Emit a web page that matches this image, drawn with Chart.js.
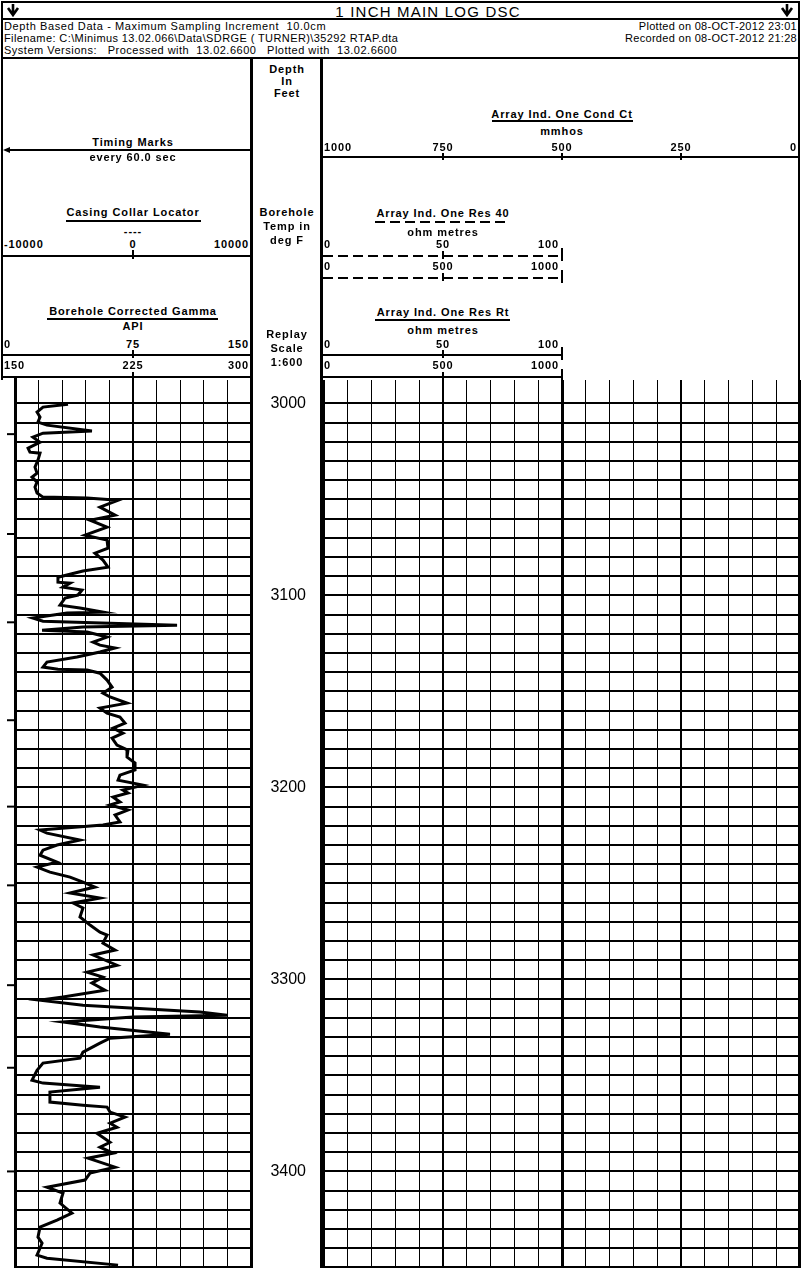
<!DOCTYPE html>
<html>
<head>
<meta charset="utf-8">
<script src="https://cdn.jsdelivr.net/npm/chart.js@4.4.1/dist/chart.umd.min.js"></script>
<style>
  html, body { margin: 0; padding: 0; background: #fff; }
  #page { position: relative; width: 801px; height: 1268px; overflow: hidden; background: #fff; }
  .txt { position: absolute; white-space: pre; line-height: 1; color: #000;
         font-family: "Liberation Sans", Arial, sans-serif; font-size: 11px; }
  .b { font-weight: bold; letter-spacing: 0.9px; }
  .ln { position: absolute; background: #000; }
  canvas { position: absolute; }
</style>
</head>
<body>
<div id="page">
  <canvas id="trackL" width="251" height="888" style="left:0;top:380px"></canvas>
  <canvas id="trackR" width="550" height="888" style="left:251px;top:380px"></canvas>
</div>
<script>
const gammaDepth = [
  3000.4, 3001.9, 3004.5, 3007.1, 3009.7, 3011.3, 3014.4, 3015.5, 3017.6, 3020.2,
  3023.3, 3025.4, 3025.9, 3029.5, 3033.2, 3036.3, 3038.4, 3041.0, 3043.6, 3046.7,
  3048.8, 3049.2, 3050.4, 3054.0, 3058.2, 3060.8, 3064.4, 3068.6, 3071.2, 3075.4,
  3078.0, 3081.6, 3085.3, 3087.3, 3090.5, 3093.1, 3093.6, 3095.7, 3097.2, 3099.8,
  3101.4, 3105.1, 3106.6, 3108.7, 3109.2, 3111.8, 3113.4, 3115.5, 3116.5, 3118.1,
  3119.1, 3121.7, 3124.3, 3125.9, 3127.4, 3129.5, 3132.1, 3134.7, 3137.3, 3138.4,
  3138.9, 3140.5, 3144.1, 3147.8, 3150.9, 3152.9, 3156.1, 3158.7, 3161.3, 3163.4,
  3166.5, 3169.1, 3171.7, 3174.3, 3177.9, 3180.6, 3184.2, 3187.3, 3190.9, 3193.6,
  3196.2, 3198.8, 3201.4, 3202.9, 3205.0, 3207.6, 3209.1, 3211.8, 3214.4, 3218.0,
  3219.6, 3222.2, 3223.8, 3227.4, 3230.0, 3232.7, 3235.3, 3238.9, 3241.5, 3244.1,
  3246.7, 3249.3, 3251.9, 3255.0, 3257.6, 3260.2, 3262.8, 3267.5, 3271.7, 3275.4,
  3276.9, 3281.1, 3284.7, 3287.3, 3292.6, 3296.2, 3298.8, 3301.9, 3305.6, 3309.2,
  3310.8, 3313.4, 3317.0, 3318.6, 3319.6, 3322.2, 3324.8, 3328.5, 3330.6, 3333.2,
  3337.9, 3341.0, 3343.6, 3347.3, 3352.5, 3354.0, 3356.1, 3358.7, 3363.9, 3365.5,
  3366.5, 3369.1, 3371.7, 3374.9, 3377.0, 3380.1, 3384.8, 3387.4, 3390.5, 3393.1,
  3397.8, 3400.9, 3404.5, 3408.2, 3411.3, 3416.5, 3421.7, 3425.4, 3429.0, 3434.2,
  3437.4, 3443.6, 3445.2, 3448.8
];
const gammaApi = [
  33.7, 17.8, 14.0, 15.9, 14.6, 20.3, 48.9, 17.8, 11.4, 15.9,
  8.3, 9.5, 15.9, 14.6, 12.7, 14.0, 10.8, 14.0, 12.7, 14.0,
  17.8, 45.8, 65.5, 54.0, 63.6, 47.7, 58.5, 44.5, 58.5, 59.1,
  50.8, 55.9, 59.1, 43.2, 27.3, 27.3, 35.0, 30.5, 42.6, 40.0,
  31.8, 28.6, 41.3, 55.9, 33.1, 11.4, 17.8, 103.0, 43.2, 17.2,
  45.8, 58.5, 49.6, 54.0, 63.6, 54.0, 39.4, 20.3, 17.8, 27.3,
  45.8, 54.0, 58.5, 61.7, 55.9, 60.4, 71.2, 54.0, 58.5, 66.7,
  69.9, 62.3, 68.6, 61.7, 64.8, 71.8, 71.2, 76.3, 76.3, 66.7,
  65.5, 81.4, 68.6, 71.8, 62.3, 66.7, 60.4, 71.8, 63.6, 66.7,
  55.9, 15.9, 20.3, 41.3, 26.7, 17.8, 15.9, 26.7, 14.0, 22.2,
  35.0, 43.2, 50.8, 35.0, 54.0, 36.9, 43.2, 41.3, 47.7, 54.0,
  58.5, 55.9, 63.6, 49.6, 64.8, 45.8, 55.9, 48.9, 57.2, 30.5,
  15.9, 43.2, 117.6, 134.7, 75.0, 30.5, 54.0, 98.5, 60.4, 54.0,
  43.2, 41.3, 17.8, 14.0, 10.8, 17.8, 54.0, 22.2, 22.2, 43.2,
  58.5, 60.4, 69.9, 60.4, 64.8, 52.1, 60.4, 54.0, 62.3, 46.4,
  63.6, 47.7, 44.5, 20.3, 30.5, 28.6, 36.2, 26.7, 15.9, 14.6,
  17.2, 14.0, 20.3, 65.5
];
const timingMarks = [3016, 3068, 3114, 3165, 3210, 3251, 3303, 3346, 3400];
const depthTop = 2987.8;
const depthBottom = 3450.3;

// header scale labels
const gammaScale = ['0', '75', '150'];
const gammaBackup = ['150', '225', '300'];
const cclScale = ['-10000', '0', '10000'];
const condScale = ['1000', '750', '500', '250', '0'];
const resScale = ['0', '50', '100'];
const resBackup = ['0', '500', '1000'];

// ---- header drawing helpers ----
const page = document.getElementById('page');
function txt(s, x, y, o = {}) {
  const d = document.createElement('div');
  d.className = 'txt' + (o.b ? ' b' : '');
  d.textContent = s;
  d.style.top = y + 'px';
  const a = o.a || 'c';
  if (a === 'c') { d.style.left = x + 'px'; d.style.transform = 'translate(-50%,-50%)'; }
  else if (a === 'l') { d.style.left = x + 'px'; d.style.transform = 'translateY(-50%)'; }
  else { d.style.right = (801 - x) + 'px'; d.style.transform = 'translateY(-50%)'; }
  if (o.f) d.style.fontSize = o.f + 'px';
  if (o.ls != null) d.style.letterSpacing = o.ls + 'px';
  page.appendChild(d);
}
function hl(x1, x2, y, w = 2, dashed = false) {
  const d = document.createElement('div');
  d.className = 'ln';
  d.style.left = x1 + 'px'; d.style.width = (x2 - x1) + 'px';
  d.style.top = (y - w / 2) + 'px'; d.style.height = w + 'px';
  if (dashed) d.style.background = 'repeating-linear-gradient(to right,#000 0 10px,transparent 10px 15px)';
  page.appendChild(d);
}
function vl(x, y1, y2, w = 2) {
  const d = document.createElement('div');
  d.className = 'ln';
  d.style.left = (x - w / 2) + 'px'; d.style.width = w + 'px';
  d.style.top = y1 + 'px'; d.style.height = (y2 - y1) + 'px';
  page.appendChild(d);
}
function arrow(x, y) {
  const ns = 'http://www.w3.org/2000/svg';
  const s = document.createElementNS(ns, 'svg');
  s.setAttribute('width', 14); s.setAttribute('height', 14);
  s.style.position = 'absolute'; s.style.left = (x - 7) + 'px'; s.style.top = (y - 7) + 'px';
  s.innerHTML = '<path d="M7 1 V12 M2 5 L7 12 L12 5" stroke="#000" stroke-width="2.6" fill="none"/>';
  page.appendChild(s);
}

// frame and title block
hl(1, 800, 2, 2);
hl(1, 800, 19, 2);
hl(1, 800, 58, 2);
vl(2, 1, 380, 2);
vl(15, 378, 1268, 3);
vl(799, 1, 1268, 2);
vl(251, 58, 1268, 3);
vl(321.5, 58, 1268, 3);
arrow(13, 10); arrow(787, 10);
txt('1 INCH MAIN LOG DSC', 428, 11, { f: 15, ls: 1.2 });
txt('Depth Based Data - Maximum Sampling Increment  10.0cm', 4, 26, { a: 'l', ls: 0.6 });
txt('Filename: C:\\Minimus 13.02.066\\Data\\SDRGE ( TURNER)\\35292 RTAP.dta', 4, 38, { a: 'l', ls: 0.4 });
txt('System Versions:   Processed with  13.02.6600   Plotted with  13.02.6600', 4, 50, { a: 'l', ls: 0.5 });
txt('Plotted on 08-OCT-2012 23:01', 797, 26, { a: 'r', ls: 0.3 });
txt('Recorded on 08-OCT-2012 21:28', 797, 38, { a: 'r', ls: 0.3 });

// left track header
txt('Timing Marks', 133, 142, { b: 1 });
hl(9, 251, 150, 2);
const head = document.createElement('div');
head.style.cssText = 'position:absolute;left:3px;top:147px;width:0;height:0;border-top:3px solid transparent;border-bottom:3px solid transparent;border-right:7px solid #000';
page.appendChild(head);
txt('every 60.0 sec', 133, 157, { b: 1 });
txt('Casing Collar Locator', 133, 212, { b: 1 });
hl(66, 201, 221, 2);
txt('----', 133, 231, { b: 1 });
txt(cclScale[0], 4, 244, { b: 1, a: 'l' });
txt(cclScale[1], 133, 244, { b: 1 });
txt(cclScale[2], 249, 244, { b: 1, a: 'r' });
hl(1, 251, 256, 2); vl(133, 250, 259, 2);
txt('Borehole Corrected Gamma', 133, 311, { b: 1 });
hl(47, 218, 319, 2);
txt('API', 133, 326, { b: 1 });
txt(gammaScale[0], 4, 344, { b: 1, a: 'l' });
txt(gammaScale[1], 133, 344, { b: 1 });
txt(gammaScale[2], 249, 344, { b: 1, a: 'r' });
hl(1, 251, 355, 2); vl(133, 350, 358, 2);
txt(gammaBackup[0], 4, 365, { b: 1, a: 'l' });
txt(gammaBackup[1], 133, 365, { b: 1 });
txt(gammaBackup[2], 249, 365, { b: 1, a: 'r' });
hl(1, 251, 377, 2); vl(133, 372, 380, 2);

// depth column header
[['Depth', 69], ['In', 81], ['Feet', 93], ['Borehole', 212], ['Temp in', 226], ['deg F', 240],
 ['Replay', 334], ['Scale', 348], ['1:600', 362]].forEach(([s, y]) => txt(s, 287, y, { b: 1 }));

// right track header
txt('Array Ind. One Cond Ct', 562, 114, { b: 1 });
hl(492, 633, 121, 2);
txt('mmhos', 562, 131, { b: 1 });
txt(condScale[0], 324, 147, { b: 1, a: 'l' });
txt(condScale[1], 443, 147, { b: 1 });
txt(condScale[2], 562, 147, { b: 1 });
txt(condScale[3], 681, 147, { b: 1 });
txt(condScale[4], 797, 147, { b: 1, a: 'r' });
hl(323, 799, 157, 2);
[443, 562, 681].forEach(x => vl(x, 153, 160, 2));

function resRow(labels, yText, yLine, dashed) {
  txt(labels[0], 324, yText, { b: 1, a: 'l' });
  txt(labels[1], 443, yText, { b: 1 });
  txt(labels[2], 559, yText, { b: 1, a: 'r' });
  hl(323, 562, yLine, 2, dashed);
  vl(443, yLine - 5, yLine + 3, 2);
  vl(562, yLine - 8, yLine + 5, 2);
}
txt('Array Ind. One Res 40', 443, 213, { b: 1 });
hl(375, 510, 222, 2, true);
txt('ohm metres', 443, 232, { b: 1 });
resRow(resScale, 244, 256, true);
resRow(resBackup, 266, 278, true);
txt('Array Ind. One Res Rt', 443, 312, { b: 1 });
hl(375, 510, 320, 2);
txt('ohm metres', 443, 330, { b: 1 });
resRow(resScale, 344, 355, false);
resRow(resBackup, 365, 377, false);

// ---- charts ----
const hiddenAxis = { ticks: { display: false }, border: { display: false } };
const depthGridColor = c => (c.tick && c.tick.value < 2995) ? 'rgba(0,0,0,0)' : '#000';

const timingPlugin = {
  id: 'timingMarks',
  afterDraw(chart) {
    const { ctx, chartArea, scales } = chart;
    ctx.save();
    ctx.strokeStyle = '#000';
    ctx.lineWidth = 2;
    timingMarks.forEach(d => {
      const y = scales.y.getPixelForValue(d);
      ctx.beginPath();
      ctx.moveTo(chartArea.left - 8, y);
      ctx.lineTo(chartArea.left, y);
      ctx.stroke();
    });
    ctx.restore();
  }
};

new Chart(document.getElementById('trackL'), {
  type: 'scatter',
  data: {
    datasets: [{
      data: gammaDepth.map((d, i) => ({ x: gammaApi[i], y: d })),
      showLine: true,
      borderColor: '#000',
      borderWidth: 3,
      pointRadius: 0,
      tension: 0
    }]
  },
  options: {
    responsive: false,
    animation: false,
    layout: { padding: { left: 15 } },
    plugins: { legend: { display: false }, tooltip: { enabled: false } },
    scales: {
      x: {
        type: 'linear', position: 'top', min: 0, max: 150,
        ...hiddenAxis,
        ticks: { display: false, stepSize: 15 },
        grid: { drawTicks: false, color: '#000', lineWidth: c => c.tick.value === 75 ? 2 : 1 },
        afterFit: s => { s.height = 0; }
      },
      y: {
        type: 'linear', reverse: true, min: depthTop, max: depthBottom,
        ...hiddenAxis,
        ticks: { display: false, stepSize: 10, includeBounds: false, autoSkip: false },
        grid: { drawTicks: false, color: depthGridColor, lineWidth: 2 },
        afterFit: s => { s.width = 0; }
      }
    }
  },
  plugins: [timingPlugin]
});

new Chart(document.getElementById('trackR'), {
  type: 'scatter',
  data: { datasets: [] },
  options: {
    responsive: false,
    animation: false,
    layout: { padding: { right: 1 } },
    plugins: { legend: { display: false }, tooltip: { enabled: false } },
    scales: {
      x: {
        type: 'linear', position: 'top', min: 0, max: 1000, reverse: true,
        ...hiddenAxis,
        ticks: { display: false, stepSize: 50 },
        grid: {
          drawTicks: false, color: '#000',
          lineWidth: c => c.tick.value === 500 ? 3 : (c.tick.value % 250 === 0 ? 2 : 1)
        },
        afterFit: s => { s.height = 0; }
      },
      y: {
        type: 'linear', reverse: true, min: depthTop, max: depthBottom,
        border: { display: false },
        ticks: {
          stepSize: 10, includeBounds: false, autoSkip: false, crossAlign: 'center', padding: 18,
          color: '#000', font: { family: '"Liberation Sans", Arial, sans-serif', size: 16 },
          callback: v => Math.round(v) % 100 === 0 ? String(Math.round(v)) : ''
        },
        grid: { drawTicks: false, color: depthGridColor, lineWidth: 2 },
        afterFit: s => { s.width = 73; s.paddingTop = 0; s.paddingBottom = 0; }
      }
    }
  }
});
</script>
</body>
</html>
